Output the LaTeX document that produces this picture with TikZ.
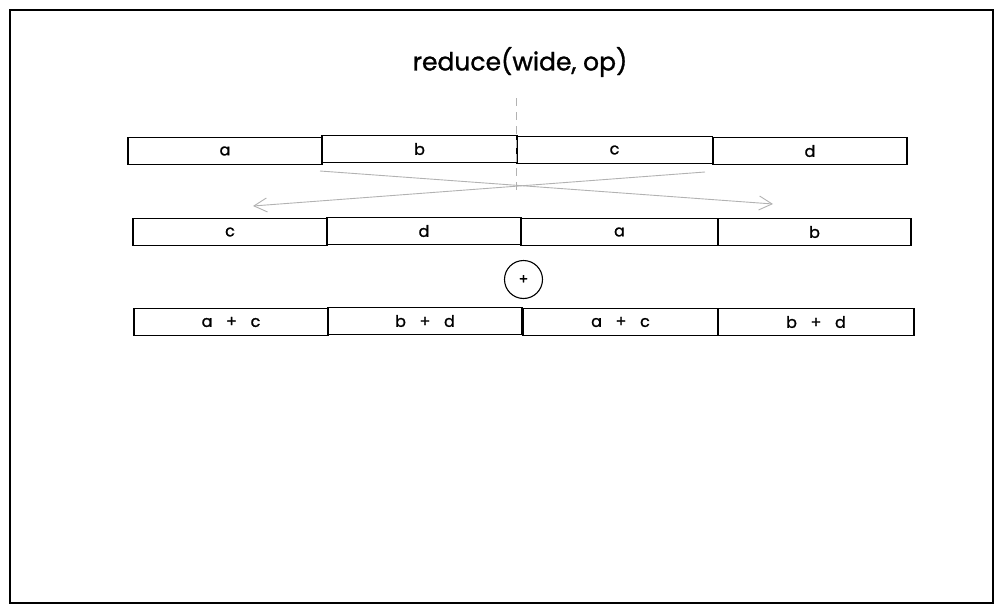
\documentclass[tikz,border=0pt]{standalone}
\usepackage{fontspec}
\setmainfont{Poppins}
\newfontfamily\sketchfont{Poppins}[FakeBold=1.2]
\usetikzlibrary{arrows.meta}
\newcommand\cellt[1]{\raisebox{-3pt}{#1}}
\newcommand\opgap{\hspace{0.85em}}
\tikzset{
  cell/.style={draw=black, line width=1.1pt, minimum height=27pt, inner sep=0pt, font=\sketchfont\fontsize{16}{18}\selectfont},
  swap/.style={draw=black!30, line width=0.9pt, -{Straight Barb[length=13pt,width=14pt]}},
  op/.style={circle, draw=black, line width=1.1pt, minimum size=38pt, inner sep=0pt, font=\sketchfont\fontsize{14}{16}\selectfont},
}
\begin{document}
\begin{tikzpicture}[x=1pt,y=-1pt]
\useasboundingbox (0,0) rectangle (1004,613);
\draw[line width=1.3pt] (10,10) rectangle (993,603);
\node[font=\sketchfont\fontsize{25}{29}\selectfont] (title) at (520,62) {reduce(wide, op)};
% row 1
\node[cell, minimum width=194pt] (r1a) at (225,151) {\cellt{a}};
\node[cell, minimum width=195pt] (r1b) at (419.5,149) {\cellt{b}};
\node[cell, minimum width=196pt] (r1c) at (614.5,150) {\cellt{c}};
\node[cell, minimum width=194pt] (r1d) at (810,151) {\cellt{d}};
% dashed divider
\coordinate (dtop) at (516,98);
\coordinate (dbot) at (516,195);
\draw[draw=black!30, line width=0.9pt, dash pattern=on 8pt off 6pt] (dtop) -- (dbot);
% swap arrows
\coordinate (s1) at (320,171);
\coordinate (e1) at (773,204);
\coordinate (s2) at (705,172);
\coordinate (e2) at (253,206);
\draw[swap] (s1) -- (e1);
\draw[swap] (s2) -- (e2);
% row 2
\node[cell, minimum width=194pt] (r2c) at (230,232) {\cellt{c}};
\node[cell, minimum width=194pt] (r2d) at (424,231) {\cellt{d}};
\node[cell, minimum width=197pt] (r2a) at (619.5,232) {\cellt{a}};
\node[cell, minimum width=193pt] (r2b) at (814.5,232) {\cellt{b}};
% operator
\node[op] (plus) at (523.5,279.5) {+};
% row 3
\node[cell, minimum width=194pt] (r3a) at (231,322) {\cellt{a\opgap+\opgap c}};
\node[cell, minimum width=194pt] (r3b) at (425,321) {\cellt{b\opgap+\opgap d}};
\node[cell, minimum width=195pt] (r3c) at (620.5,322) {\cellt{a\opgap+\opgap c}};
\node[cell, minimum width=196pt] (r3d) at (816,322) {\cellt{b\opgap+\opgap d}};
\end{tikzpicture}
\end{document}
